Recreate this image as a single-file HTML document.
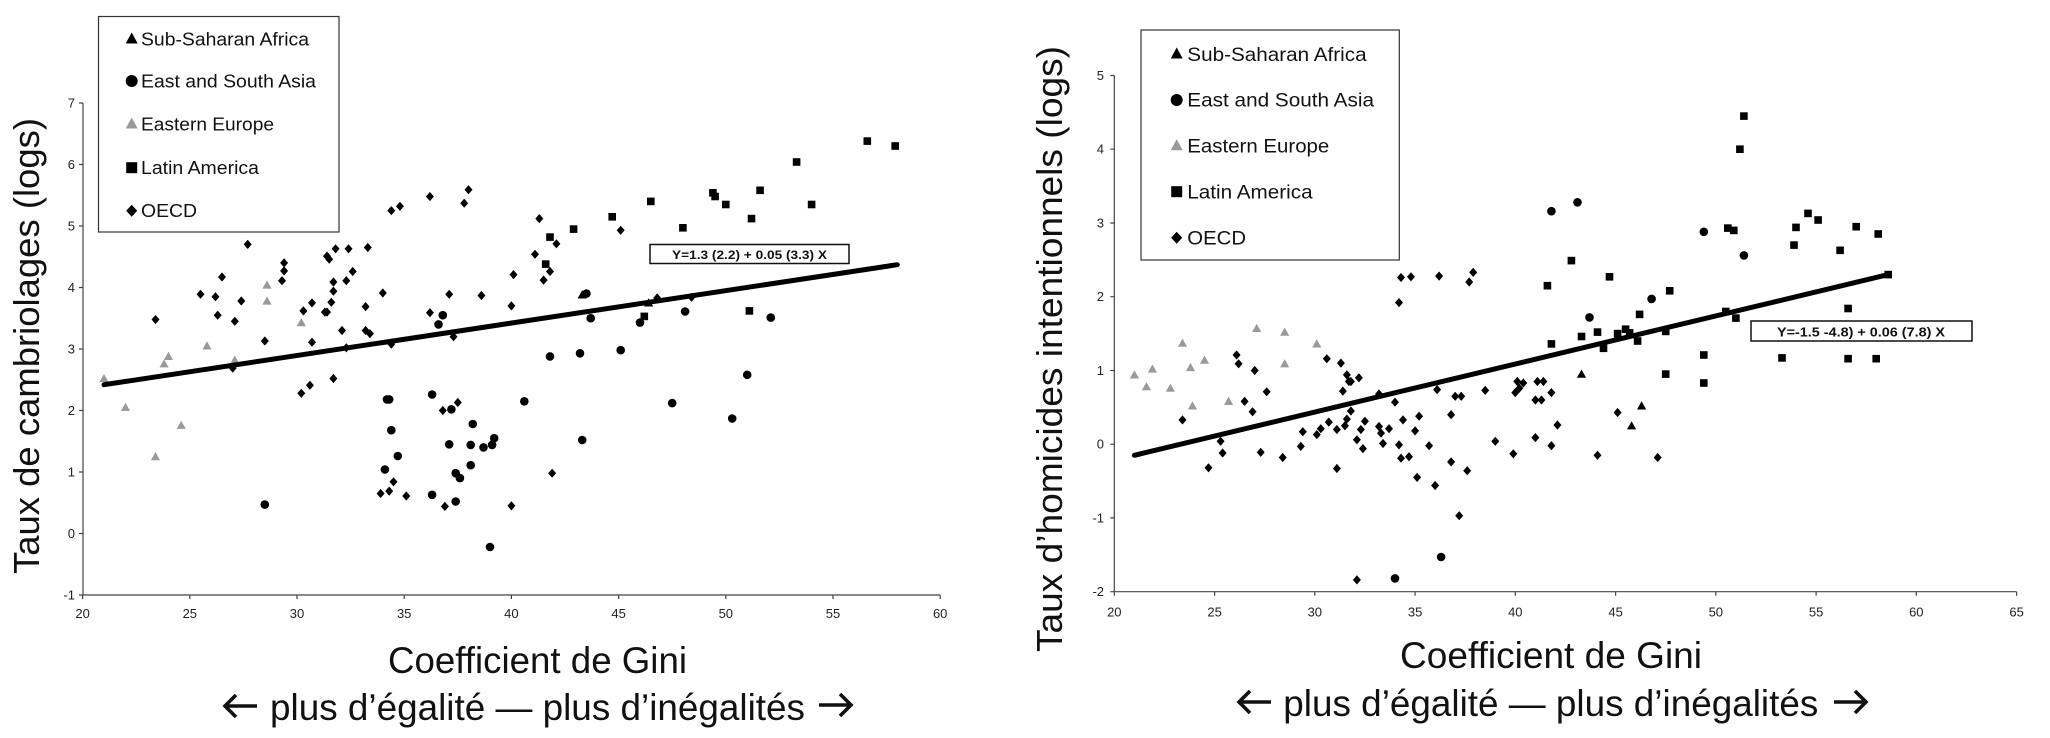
<!DOCTYPE html>
<html><head><meta charset="utf-8"><style>html,body{margin:0;padding:0;background:#fff}svg{display:block}</style></head><body>
<svg xmlns="http://www.w3.org/2000/svg" xmlns:xlink="http://www.w3.org/1999/xlink" width="2050" height="738" viewBox="0 0 2050 738" font-family="'Liberation Sans', Arial, sans-serif">
<defs>
<circle id="c" r="4.3" fill="#000"/>
<rect id="s" x="-3.8" y="-3.8" width="7.6" height="7.6" fill="#000"/>
<polygon id="d" points="0,-4.6 4,0 0,4.6 -4,0" fill="#000"/>
<polygon id="t" points="0,-4.6 4.6,3.6 -4.6,3.6" fill="#000"/>
<polygon id="g" points="0,-4.6 4.6,3.6 -4.6,3.6" fill="#9a9a9a"/>
<circle id="Lc" r="6" fill="#000"/>
<rect id="Ls" x="-5.5" y="-5.5" width="11" height="11" fill="#000"/>
<polygon id="Ld" points="0,-6 5.5,0 0,6 -5.5,0" fill="#000"/>
<polygon id="Lt" points="0,-6 6,5 -6,5" fill="#000"/>
<polygon id="Lg" points="0,-6 6,5 -6,5" fill="#9a9a9a"/>
</defs>
<rect width="2050" height="738" fill="#fff"/>

<!-- ================= LEFT CHART ================= -->
<g stroke="#444" stroke-width="1.2" fill="none">
<line x1="83" y1="103" x2="83" y2="595"/>
<line x1="83" y1="595" x2="940.2" y2="595"/>
<path d="M79 103H83M79 164.5H83M79 226H83M79 287.5H83M79 349H83M79 410.5H83M79 472H83M79 533.5H83M79 595H83"/>
<path d="M82.6 595V599M189.8 595V599M297 595V599M404.2 595V599M511.4 595V599M618.6 595V599M725.8 595V599M833 595V599M940.2 595V599"/>
</g>
<g font-size="13" fill="#222" text-anchor="end">
<text x="75" y="107.5">7</text><text x="75" y="169">6</text><text x="75" y="230.5">5</text><text x="75" y="292">4</text><text x="75" y="353.5">3</text><text x="75" y="415">2</text><text x="75" y="476.5">1</text><text x="75" y="538">0</text><text x="75" y="599.5">-1</text>
</g>
<g font-size="13" fill="#222" text-anchor="middle">
<text x="82.6" y="618">20</text><text x="189.8" y="618">25</text><text x="297" y="618">30</text><text x="404.2" y="618">35</text><text x="511.4" y="618">40</text><text x="618.6" y="618">45</text><text x="725.8" y="618">50</text><text x="833" y="618">55</text><text x="940.2" y="618">60</text>
</g>
<text transform="translate(39,346) rotate(-90)" text-anchor="middle" font-size="36" fill="#111" textLength="456" lengthAdjust="spacingAndGlyphs">Taux de cambriolages (logs)</text>
<text x="388" y="673" font-size="37" fill="#111" textLength="299" lengthAdjust="spacingAndGlyphs">Coefficient de Gini</text>
<text x="270" y="720" font-size="37" fill="#111" textLength="535" lengthAdjust="spacingAndGlyphs">plus d’égalité — plus d’inégalités</text>
<g stroke="#111" stroke-width="3.6" fill="none" stroke-linecap="butt" stroke-linejoin="miter">
<path d="M236 695 L225 706 L236 717 M225 706 H257"/>
<path d="M840 694 L851 705 L840 716 M851 705 H819"/>
</g>

<!-- legend left -->
<rect x="98.5" y="16.5" width="240.5" height="215.5" fill="#fff" stroke="#333" stroke-width="1.2"/>
<use xlink:href="#Lt" x="131.7" y="38.5"/>
<use xlink:href="#Lc" x="131.7" y="81"/>
<use xlink:href="#Lg" x="131.7" y="123.5"/>
<use xlink:href="#Ls" x="131.7" y="167.7"/>
<use xlink:href="#Ld" x="131.7" y="210.7"/>
<g font-size="18.5" fill="#111">
<text x="141" y="45.6" textLength="168" lengthAdjust="spacingAndGlyphs">Sub-Saharan Africa</text>
<text x="141" y="87.3" textLength="175" lengthAdjust="spacingAndGlyphs">East and South Asia</text>
<text x="141" y="130.6" textLength="133" lengthAdjust="spacingAndGlyphs">Eastern Europe</text>
<text x="141" y="174" textLength="118" lengthAdjust="spacingAndGlyphs">Latin America</text>
<text x="141" y="217" textLength="56" lengthAdjust="spacingAndGlyphs">OECD</text>
</g>

<!-- left points: Eastern Europe -->
<use xlink:href="#g" x="104" y="378.5"/><use xlink:href="#g" x="125.5" y="407.4"/><use xlink:href="#g" x="155.5" y="456.6"/><use xlink:href="#g" x="164.1" y="363.8"/><use xlink:href="#g" x="168.4" y="356.4"/><use xlink:href="#g" x="181.2" y="425.3"/><use xlink:href="#g" x="207" y="345.9"/><use xlink:href="#g" x="234.8" y="360.1"/><use xlink:href="#g" x="267" y="285"/><use xlink:href="#g" x="267" y="301"/><use xlink:href="#g" x="301.3" y="322.6"/>
<!-- SSA -->
<use xlink:href="#t" x="582.2" y="294.9"/><use xlink:href="#t" x="648.6" y="302.9"/>
<!-- Asia -->
<use xlink:href="#c" x="264.8" y="504.6"/><use xlink:href="#c" x="387" y="399.4"/><use xlink:href="#c" x="389.2" y="399.4"/><use xlink:href="#c" x="391.3" y="430.2"/><use xlink:href="#c" x="384.9" y="469.5"/><use xlink:href="#c" x="397.8" y="456"/><use xlink:href="#c" x="432.1" y="394.5"/><use xlink:href="#c" x="438.5" y="324.4"/><use xlink:href="#c" x="442.8" y="315.2"/><use xlink:href="#c" x="432.1" y="494.8"/><use xlink:href="#c" x="451.4" y="409.3"/><use xlink:href="#c" x="449.2" y="444.3"/><use xlink:href="#c" x="455.7" y="473.2"/><use xlink:href="#c" x="459.9" y="478.1"/><use xlink:href="#c" x="455.7" y="501.5"/><use xlink:href="#c" x="472.8" y="424"/><use xlink:href="#c" x="470.7" y="444.9"/><use xlink:href="#c" x="470.7" y="465.2"/><use xlink:href="#c" x="483.5" y="447.4"/><use xlink:href="#c" x="492.1" y="444.9"/><use xlink:href="#c" x="494.2" y="438.2"/><use xlink:href="#c" x="490" y="547"/><use xlink:href="#c" x="524.3" y="401.3"/><use xlink:href="#c" x="550" y="356.4"/><use xlink:href="#c" x="580" y="353.3"/><use xlink:href="#c" x="582.2" y="440"/><use xlink:href="#c" x="586.4" y="293.6"/><use xlink:href="#c" x="590.7" y="318.2"/><use xlink:href="#c" x="620.7" y="350.2"/><use xlink:href="#c" x="640" y="322.6"/><use xlink:href="#c" x="685.1" y="311.5"/><use xlink:href="#c" x="672.2" y="403.1"/><use xlink:href="#c" x="732.2" y="418.5"/><use xlink:href="#c" x="747.2" y="374.8"/><use xlink:href="#c" x="770.8" y="317.6"/>
<!-- Latin America -->
<use xlink:href="#s" x="550" y="237.1"/><use xlink:href="#s" x="545.7" y="264.1"/><use xlink:href="#s" x="573.6" y="229.1"/><use xlink:href="#s" x="612.2" y="216.8"/><use xlink:href="#s" x="650.8" y="201.4"/><use xlink:href="#s" x="644.3" y="316.4"/><use xlink:href="#s" x="682.9" y="227.8"/><use xlink:href="#s" x="712.9" y="192.8"/><use xlink:href="#s" x="715.1" y="196.5"/><use xlink:href="#s" x="725.8" y="204.5"/><use xlink:href="#s" x="751.5" y="218.6"/><use xlink:href="#s" x="760.1" y="190.3"/><use xlink:href="#s" x="749.4" y="310.9"/><use xlink:href="#s" x="796.6" y="162"/><use xlink:href="#s" x="811.6" y="204.5"/><use xlink:href="#s" x="867.3" y="141.1"/><use xlink:href="#s" x="895.2" y="146"/>
<!-- OECD -->
<use xlink:href="#d" x="155.5" y="319.5"/><use xlink:href="#d" x="200.5" y="294.3"/><use xlink:href="#d" x="215.5" y="296.7"/><use xlink:href="#d" x="222" y="277"/><use xlink:href="#d" x="217.7" y="315.2"/><use xlink:href="#d" x="241.3" y="301"/><use xlink:href="#d" x="234.8" y="321.3"/><use xlink:href="#d" x="232.7" y="368.1"/><use xlink:href="#d" x="247.7" y="244.4"/><use xlink:href="#d" x="264.8" y="341"/><use xlink:href="#d" x="282" y="280.7"/><use xlink:href="#d" x="284.1" y="270.9"/><use xlink:href="#d" x="284.1" y="262.9"/><use xlink:href="#d" x="303.4" y="310.9"/><use xlink:href="#d" x="312" y="302.9"/><use xlink:href="#d" x="312" y="342.2"/><use xlink:href="#d" x="301.3" y="393.3"/><use xlink:href="#d" x="309.9" y="385.3"/><use xlink:href="#d" x="327" y="256.1"/><use xlink:href="#d" x="329.2" y="259.2"/><use xlink:href="#d" x="324.9" y="312.1"/><use xlink:href="#d" x="327" y="312.1"/><use xlink:href="#d" x="331.3" y="302.3"/><use xlink:href="#d" x="333.4" y="291.2"/><use xlink:href="#d" x="333.4" y="282"/><use xlink:href="#d" x="335.6" y="248.8"/><use xlink:href="#d" x="348.5" y="248.8"/><use xlink:href="#d" x="346.3" y="280.7"/><use xlink:href="#d" x="352.7" y="271.5"/><use xlink:href="#d" x="342" y="330.5"/><use xlink:href="#d" x="346.3" y="347.8"/><use xlink:href="#d" x="333.4" y="378.5"/><use xlink:href="#d" x="367.8" y="247.5"/><use xlink:href="#d" x="365.6" y="306.6"/><use xlink:href="#d" x="365.6" y="330.5"/><use xlink:href="#d" x="369.9" y="333.6"/><use xlink:href="#d" x="382.8" y="293"/><use xlink:href="#d" x="391.3" y="344.1"/><use xlink:href="#d" x="391.3" y="210.6"/><use xlink:href="#d" x="399.9" y="206.3"/><use xlink:href="#d" x="380.6" y="493.5"/><use xlink:href="#d" x="389.2" y="491.1"/><use xlink:href="#d" x="393.5" y="481.8"/><use xlink:href="#d" x="406.3" y="496"/><use xlink:href="#d" x="429.9" y="196.5"/><use xlink:href="#d" x="429.9" y="312.7"/><use xlink:href="#d" x="449.2" y="294.3"/><use xlink:href="#d" x="453.5" y="336.7"/><use xlink:href="#d" x="442.8" y="410.5"/><use xlink:href="#d" x="457.8" y="402.5"/><use xlink:href="#d" x="444.9" y="506.4"/><use xlink:href="#d" x="464.2" y="203.2"/><use xlink:href="#d" x="468.5" y="189.7"/><use xlink:href="#d" x="481.4" y="295.5"/><use xlink:href="#d" x="513.5" y="274.6"/><use xlink:href="#d" x="511.4" y="305.9"/><use xlink:href="#d" x="511.4" y="505.8"/><use xlink:href="#d" x="535" y="254.3"/><use xlink:href="#d" x="539.3" y="218.6"/><use xlink:href="#d" x="543.6" y="280.1"/><use xlink:href="#d" x="550" y="271.5"/><use xlink:href="#d" x="556.4" y="243.8"/><use xlink:href="#d" x="552.1" y="473.2"/><use xlink:href="#d" x="620.7" y="230.3"/><use xlink:href="#d" x="657.2" y="298"/><use xlink:href="#d" x="691.5" y="297.3"/>
<!-- regression left -->
<line x1="104" y1="384.7" x2="897.3" y2="264.7" stroke="#000" stroke-width="5" stroke-linecap="round"/>
<rect x="650" y="244.5" width="199" height="19" fill="#fff" stroke="#111" stroke-width="1.5"/>
<text x="749.5" y="259.2" text-anchor="middle" font-size="12" font-weight="bold" fill="#111" textLength="155" lengthAdjust="spacingAndGlyphs">Y=1.3 (2.2) + 0.05 (3.3) X</text>

<!-- ================= RIGHT CHART ================= -->
<g stroke="#444" stroke-width="1.2" fill="none">
<line x1="1114.3" y1="75.5" x2="1114.3" y2="591.7"/>
<line x1="1114.3" y1="591.7" x2="2016.6" y2="591.7"/>
<path d="M1110.3 75.5H1114.3M1110.3 149.2H1114.3M1110.3 223H1114.3M1110.3 296.7H1114.3M1110.3 370.5H1114.3M1110.3 444.2H1114.3M1110.3 517.9H1114.3M1110.3 591.7H1114.3"/>
<path d="M1114.3 591.7V595.7M1214.6 591.7V595.7M1314.8 591.7V595.7M1415.1 591.7V595.7M1515.3 591.7V595.7M1615.6 591.7V595.7M1715.8 591.7V595.7M1816.1 591.7V595.7M1916.3 591.7V595.7M2016.6 591.7V595.7"/>
</g>
<g font-size="13" fill="#222" text-anchor="end">
<text x="1104" y="80">5</text><text x="1104" y="153.7">4</text><text x="1104" y="227.5">3</text><text x="1104" y="301.2">2</text><text x="1104" y="375">1</text><text x="1104" y="448.7">0</text><text x="1104" y="522.4">-1</text><text x="1104" y="596.2">-2</text>
</g>
<g font-size="13" fill="#222" text-anchor="middle">
<text x="1114.3" y="616.7">20</text><text x="1214.6" y="616.7">25</text><text x="1314.8" y="616.7">30</text><text x="1415.1" y="616.7">35</text><text x="1515.3" y="616.7">40</text><text x="1615.6" y="616.7">45</text><text x="1715.8" y="616.7">50</text><text x="1816.1" y="616.7">55</text><text x="1916.3" y="616.7">60</text><text x="2016.6" y="616.7">65</text>
</g>
<text transform="translate(1062,349) rotate(-90)" text-anchor="middle" font-size="36" fill="#111" textLength="606" lengthAdjust="spacingAndGlyphs">Taux d’homicides intentionnels (logs)</text>
<text x="1400" y="668" font-size="37" fill="#111" textLength="302" lengthAdjust="spacingAndGlyphs">Coefficient de Gini</text>
<text x="1283.3" y="716" font-size="37" fill="#111" textLength="535" lengthAdjust="spacingAndGlyphs">plus d’égalité — plus d’inégalités</text>
<g stroke="#111" stroke-width="3.6" fill="none" stroke-linecap="butt" stroke-linejoin="miter">
<path d="M1250 691 L1239 702 L1250 713 M1239 702 H1271"/>
<path d="M1855 691 L1866 702 L1855 713 M1866 702 H1834"/>
</g>

<!-- legend right -->
<rect x="1141" y="30" width="258.3" height="230" fill="#fff" stroke="#333" stroke-width="1.2"/>
<use xlink:href="#Lt" x="1176.7" y="53.5"/>
<use xlink:href="#Lc" x="1176.7" y="100"/>
<use xlink:href="#Lg" x="1176.7" y="145.3"/>
<use xlink:href="#Ls" x="1176.7" y="191.7"/>
<use xlink:href="#Ld" x="1176.7" y="237.7"/>
<g font-size="19.5" fill="#111">
<text x="1187.3" y="61" textLength="179.3" lengthAdjust="spacingAndGlyphs">Sub-Saharan Africa</text>
<text x="1187.3" y="106.7" textLength="186.7" lengthAdjust="spacingAndGlyphs">East and South Asia</text>
<text x="1187.3" y="152.7" textLength="142" lengthAdjust="spacingAndGlyphs">Eastern Europe</text>
<text x="1187.3" y="198.4" textLength="125.3" lengthAdjust="spacingAndGlyphs">Latin America</text>
<text x="1187.3" y="244.4" textLength="58.7" lengthAdjust="spacingAndGlyphs">OECD</text>
</g>

<!-- right points: Eastern Europe -->
<use xlink:href="#g" x="1134.4" y="374.9"/><use xlink:href="#g" x="1146.4" y="386.7"/><use xlink:href="#g" x="1152.4" y="369"/><use xlink:href="#g" x="1170.4" y="388.2"/><use xlink:href="#g" x="1182.5" y="343.2"/><use xlink:href="#g" x="1190.5" y="367.5"/><use xlink:href="#g" x="1192.5" y="405.9"/><use xlink:href="#g" x="1204.5" y="360.1"/><use xlink:href="#g" x="1228.6" y="401.4"/><use xlink:href="#g" x="1256.7" y="328.4"/><use xlink:href="#g" x="1284.7" y="332.1"/><use xlink:href="#g" x="1284.7" y="363.8"/><use xlink:href="#g" x="1316.8" y="343.9"/>
<!-- SSA -->
<use xlink:href="#t" x="1581.5" y="374.1"/><use xlink:href="#t" x="1641.6" y="405.9"/><use xlink:href="#t" x="1631.6" y="425.8"/>
<!-- Asia -->
<use xlink:href="#c" x="1395" y="578.4"/><use xlink:href="#c" x="1441.1" y="557"/><use xlink:href="#c" x="1551.4" y="211.2"/><use xlink:href="#c" x="1577.5" y="202.3"/><use xlink:href="#c" x="1589.5" y="317.4"/><use xlink:href="#c" x="1651.6" y="298.9"/><use xlink:href="#c" x="1703.8" y="231.8"/><use xlink:href="#c" x="1743.9" y="255.4"/>
<!-- Latin America -->
<use xlink:href="#s" x="1547.4" y="285.7"/><use xlink:href="#s" x="1551.4" y="343.9"/><use xlink:href="#s" x="1571.4" y="260.6"/><use xlink:href="#s" x="1581.5" y="336.5"/><use xlink:href="#s" x="1597.5" y="332.1"/><use xlink:href="#s" x="1603.5" y="348.3"/><use xlink:href="#s" x="1609.5" y="276.8"/><use xlink:href="#s" x="1617.6" y="333.6"/><use xlink:href="#s" x="1625.6" y="329.2"/><use xlink:href="#s" x="1629.6" y="332.9"/><use xlink:href="#s" x="1637.6" y="341"/><use xlink:href="#s" x="1639.6" y="314.4"/><use xlink:href="#s" x="1665.7" y="331.4"/><use xlink:href="#s" x="1665.7" y="374.1"/><use xlink:href="#s" x="1669.7" y="290.8"/><use xlink:href="#s" x="1703.8" y="355"/><use xlink:href="#s" x="1703.8" y="383"/><use xlink:href="#s" x="1725.8" y="311.5"/><use xlink:href="#s" x="1727.8" y="228.1"/><use xlink:href="#s" x="1733.8" y="230.4"/><use xlink:href="#s" x="1735.9" y="318.1"/><use xlink:href="#s" x="1739.9" y="149.2"/><use xlink:href="#s" x="1743.9" y="116.1"/><use xlink:href="#s" x="1782" y="357.9"/><use xlink:href="#s" x="1794" y="245.1"/><use xlink:href="#s" x="1796" y="227.4"/><use xlink:href="#s" x="1808" y="213.4"/><use xlink:href="#s" x="1818.1" y="220"/><use xlink:href="#s" x="1840.1" y="250.3"/><use xlink:href="#s" x="1848.1" y="308.5"/><use xlink:href="#s" x="1848.1" y="358.7"/><use xlink:href="#s" x="1856.2" y="226.7"/><use xlink:href="#s" x="1876.2" y="358.7"/><use xlink:href="#s" x="1878.2" y="234"/><use xlink:href="#s" x="1888.2" y="274.6"/>
<!-- OECD -->
<use xlink:href="#d" x="1182.5" y="419.9"/><use xlink:href="#d" x="1208.5" y="467.8"/><use xlink:href="#d" x="1220.6" y="441.3"/><use xlink:href="#d" x="1222.6" y="453"/><use xlink:href="#d" x="1236.6" y="355"/><use xlink:href="#d" x="1238.6" y="363.8"/><use xlink:href="#d" x="1244.6" y="401.4"/><use xlink:href="#d" x="1252.6" y="411.8"/><use xlink:href="#d" x="1254.7" y="370.5"/><use xlink:href="#d" x="1260.7" y="452.3"/><use xlink:href="#d" x="1266.7" y="391.8"/><use xlink:href="#d" x="1282.7" y="457.5"/><use xlink:href="#d" x="1300.8" y="446.4"/><use xlink:href="#d" x="1302.8" y="431.7"/><use xlink:href="#d" x="1316.8" y="434.6"/><use xlink:href="#d" x="1320.8" y="428.7"/><use xlink:href="#d" x="1328.8" y="422.1"/><use xlink:href="#d" x="1326.8" y="358.7"/><use xlink:href="#d" x="1336.9" y="468.5"/><use xlink:href="#d" x="1336.9" y="429.5"/><use xlink:href="#d" x="1340.9" y="363.1"/><use xlink:href="#d" x="1342.9" y="391.1"/><use xlink:href="#d" x="1346.9" y="374.9"/><use xlink:href="#d" x="1348.9" y="381.5"/><use xlink:href="#d" x="1350.9" y="381.5"/><use xlink:href="#d" x="1346.9" y="419.1"/><use xlink:href="#d" x="1350.9" y="411"/><use xlink:href="#d" x="1344.9" y="425.8"/><use xlink:href="#d" x="1356.9" y="439.8"/><use xlink:href="#d" x="1358.9" y="377.8"/><use xlink:href="#d" x="1360.9" y="429.5"/><use xlink:href="#d" x="1362.9" y="448.6"/><use xlink:href="#d" x="1364.9" y="421.3"/><use xlink:href="#d" x="1356.9" y="579.9"/><use xlink:href="#d" x="1379" y="394"/><use xlink:href="#d" x="1379" y="426.5"/><use xlink:href="#d" x="1381" y="433.1"/><use xlink:href="#d" x="1389" y="428.7"/><use xlink:href="#d" x="1383" y="443.5"/><use xlink:href="#d" x="1395" y="402.2"/><use xlink:href="#d" x="1399" y="444.9"/><use xlink:href="#d" x="1399" y="302.6"/><use xlink:href="#d" x="1401" y="277.5"/><use xlink:href="#d" x="1411" y="276.8"/><use xlink:href="#d" x="1403" y="419.9"/><use xlink:href="#d" x="1401" y="458.2"/><use xlink:href="#d" x="1409" y="456.7"/><use xlink:href="#d" x="1415.1" y="430.9"/><use xlink:href="#d" x="1419.1" y="416.2"/><use xlink:href="#d" x="1417.1" y="477.4"/><use xlink:href="#d" x="1429.1" y="445.7"/><use xlink:href="#d" x="1435.1" y="485.5"/><use xlink:href="#d" x="1437.1" y="389.6"/><use xlink:href="#d" x="1439.1" y="276.1"/><use xlink:href="#d" x="1451.1" y="414.7"/><use xlink:href="#d" x="1451.1" y="461.9"/><use xlink:href="#d" x="1455.2" y="396.3"/><use xlink:href="#d" x="1461.2" y="396.3"/><use xlink:href="#d" x="1459.2" y="515.7"/><use xlink:href="#d" x="1467.2" y="470.7"/><use xlink:href="#d" x="1469.2" y="282"/><use xlink:href="#d" x="1473.2" y="272.4"/><use xlink:href="#d" x="1485.2" y="390.4"/><use xlink:href="#d" x="1495.3" y="441.3"/><use xlink:href="#d" x="1513.3" y="453.8"/><use xlink:href="#d" x="1515.3" y="392.6"/><use xlink:href="#d" x="1517.3" y="381.5"/><use xlink:href="#d" x="1519.3" y="388.2"/><use xlink:href="#d" x="1523.3" y="383"/><use xlink:href="#d" x="1537.4" y="381.5"/><use xlink:href="#d" x="1543.4" y="381.5"/><use xlink:href="#d" x="1535.4" y="400"/><use xlink:href="#d" x="1541.4" y="400"/><use xlink:href="#d" x="1551.4" y="392.6"/><use xlink:href="#d" x="1535.4" y="437.6"/><use xlink:href="#d" x="1551.4" y="445.7"/><use xlink:href="#d" x="1557.4" y="425"/><use xlink:href="#d" x="1597.5" y="455.3"/><use xlink:href="#d" x="1617.6" y="412.5"/><use xlink:href="#d" x="1657.7" y="457.5"/>
<!-- regression right -->
<line x1="1134.4" y1="455.3" x2="1888.2" y2="274.6" stroke="#000" stroke-width="5" stroke-linecap="round"/>
<rect x="1751" y="321" width="221" height="20" fill="#fff" stroke="#111" stroke-width="1.5"/>
<text x="1861" y="336.5" text-anchor="middle" font-size="13" font-weight="bold" fill="#111" textLength="168" lengthAdjust="spacingAndGlyphs">Y=-1.5 -4.8) + 0.06 (7.8) X</text>
</svg>
</body></html>
